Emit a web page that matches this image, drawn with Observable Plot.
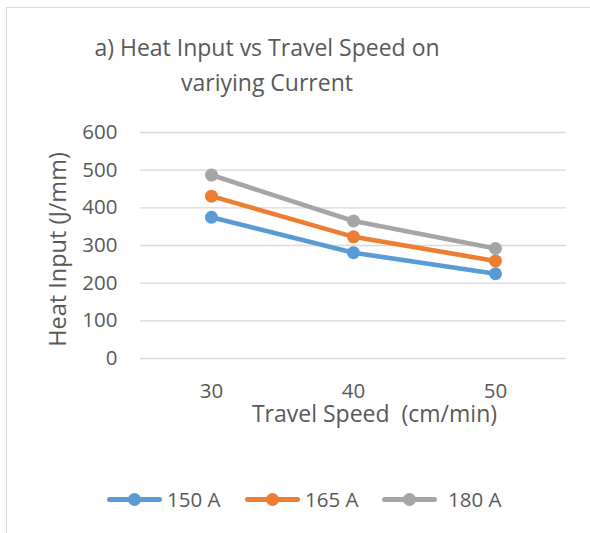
<!DOCTYPE html>
<html>
<head>
<meta charset="utf-8">
<script src="https://cdn.jsdelivr.net/npm/d3@7"></script>
<script src="https://cdn.jsdelivr.net/npm/@observablehq/plot@0.6"></script>
<style>
  html, body { margin: 0; padding: 0; background: #fff; overflow: hidden; }
  body { width: 590px; height: 533px; position: relative; font-family: "Open Sans", sans-serif; color: #595959; }
  #frame { position: absolute; left: 6px; top: 7px; width: 700px; height: 700px; border: 1.5px solid #d9d9d9; box-sizing: border-box; }
  #title { position: absolute; left: -28px; top: 30px; width: 590px; text-align: center; font-size: 23px; line-height: 34.5px; color: #595959; }
  #chart { position: absolute; left: 0; top: 115px; }
  #chart svg text { white-space: pre; }
  #legend { position: absolute; top: 485px; left: 0; width: 590px; height: 28px; }
  .swatch { position: absolute; top: 11.5px; height: 5px; width: 55px; border-radius: 2.5px; }
  .dot { position: absolute; top: 7.5px; width: 13px; height: 13px; border-radius: 50%; }
  .lbl { position: absolute; top: 0; font-size: 20.5px; line-height: 28px; white-space: nowrap; }
</style>
</head>
<body>
<div id="frame"></div>
<div id="title">a) Heat Input vs Travel Speed on<br>variying Current</div>
<div id="chart"></div>
<div id="legend"></div>
<script>
// Travel speed categories (cm/min)
const speeds = [30, 40, 50];
// Welding current series
const currents = ["150 A", "165 A", "180 A"];
const colors = ["#5B9BD5", "#ED7D31", "#A5A5A5"];
// Heat input (J/mm) per current, ordered by travel speed
const heat150 = [375, 281, 225];
const heat165 = [431, 323, 259];
const heat180 = [487, 365, 292];
const yTicks = [0, 100, 200, 300, 400, 500, 600];

const seriesValues = [heat150, heat165, heat180];
const rows = currents.flatMap((c, i) =>
  speeds.map((s, j) => ({ current: c, speed: s, heat: seriesValues[i][j] }))
);

const W = 590, H = 330;
const plot = Plot.plot({
  width: W,
  height: H,
  marginTop: 17,
  marginBottom: H - 243,
  marginLeft: 140,
  marginRight: 24,
  style: { fontFamily: "Open Sans, sans-serif", fontSize: "20px", color: "#595959", background: "transparent", overflow: "visible" },
  x: { type: "point", domain: speeds, padding: 0.5 },
  y: { domain: [0, 600] },
  color: { domain: currents, range: colors },
  marks: [
    Plot.ruleY(yTicks, { stroke: "#d9d9d9", strokeWidth: 1.4 }),
    Plot.axisY(yTicks, { tickSize: 0, tickPadding: 23, label: null, fill: "#595959", fontSize: 20.5 }),
    Plot.axisX(speeds, { tickSize: 0, tickPadding: 25, label: null, fill: "#595959", fontSize: 20.5 }),
    Plot.text(["Heat Input (J/mm)"], { frameAnchor: "left", textAnchor: "middle", rotate: -90, dx: -82, dy: 4, fontSize: 23.5, fill: "#595959", lineAnchor: "middle" }),
    Plot.text(["Travel Speed  (cm/min)"], { frameAnchor: "bottom", textAnchor: "middle", dx: 21, dy: 63, fontSize: 23, fill: "#595959", lineAnchor: "bottom" }),
    Plot.line(rows, { x: "speed", y: "heat", z: "current", stroke: "current", strokeWidth: 4.6, curve: "linear" }),
    Plot.dot(rows, { x: "speed", y: "heat", fill: "current", r: 6.5 })
  ]
});
document.getElementById("chart").appendChild(plot);

// Legend: line-with-dot swatch and label per series
const legendX = [107, 245, 382];
const labelX = [167, 305, 448];
const legend = document.getElementById("legend");
currents.forEach((c, i) => {
  const sw = document.createElement("div");
  sw.className = "swatch";
  sw.style.left = legendX[i] + "px";
  sw.style.background = colors[i];
  const dot = document.createElement("div");
  dot.className = "dot";
  dot.style.left = (legendX[i] + 27.5 - 6.5) + "px";
  dot.style.background = colors[i];
  const lbl = document.createElement("div");
  lbl.className = "lbl";
  lbl.style.left = labelX[i] + "px";
  lbl.textContent = c;
  legend.append(sw, dot, lbl);
});
</script>
</body>
</html>
